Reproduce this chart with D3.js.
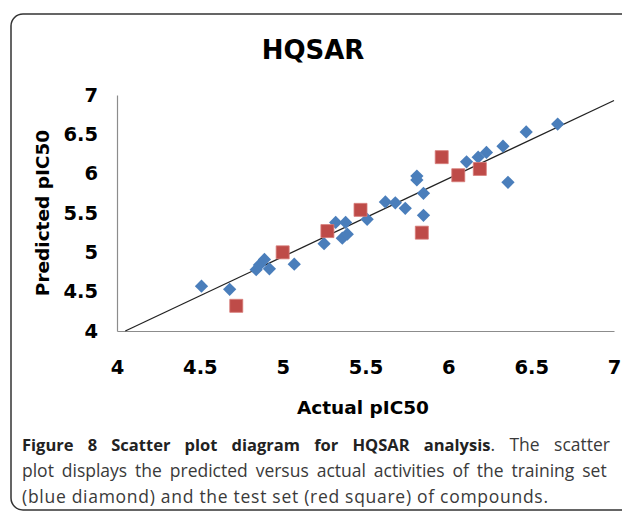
<!DOCTYPE html>
<html>
<head>
<meta charset="utf-8">
<script src="https://cdn.jsdelivr.net/npm/d3@7"></script>
<style>
body { margin: 0; background: #fff; overflow: hidden; }
</style>
</head>
<body>
<script>
// training set (blue diamonds)
const trainActual = [4.51, 4.68, 4.84, 4.86, 4.89, 4.92, 5.07, 5.25, 5.32, 5.38, 5.36, 5.39, 5.51, 5.62, 5.68, 5.74, 5.81, 5.81, 5.85, 5.85, 6.11, 6.18, 6.23, 6.33, 6.36, 6.47, 6.66]
const trainPred = [4.57, 4.53, 4.78, 4.84, 4.91, 4.79, 4.85, 5.11, 5.38, 5.38, 5.18, 5.23, 5.42, 5.64, 5.63, 5.56, 5.97, 5.92, 5.75, 5.47, 6.15, 6.21, 6.27, 6.35, 5.89, 6.53, 6.63]
// test set (red squares)
const testActual = [4.72, 5.00, 5.27, 5.47, 5.84, 5.96, 6.06, 6.19]
const testPred = [4.32, 5.00, 5.27, 5.54, 5.25, 6.21, 5.98, 6.06]
// fitted line end points
const fitX = [4.05, 7.0]
const fitY = [4.0, 6.93]
const ticks = [4, 4.5, 5, 5.5, 6, 6.5, 7]
const captionBold = "Figure 8 Scatter plot diagram for HQSAR analysis"
const captionLines = [". The scatter", "plot displays the predicted versus actual activities of the training set", "(blue diamond) and the test set (red square) of compounds."]

const W = 622, H = 514
const font = "'DejaVu Sans', sans-serif"

const svg = d3.select("body").append("svg").attr("width", W).attr("height", H)

svg.append("rect").attr("x", 11).attr("y", 14).attr("width", 660).attr("height", 496).attr("rx", 12)
  .attr("fill", "#fff").attr("stroke", "#333").attr("stroke-width", 1.5)

const x = d3.scaleLinear().domain([4, 7]).range([117, 614])
const y = d3.scaleLinear().domain([4, 7]).range([331, 95])

svg.append("text").attr("x", 313).attr("y", 50).attr("dy", "0.36em").attr("text-anchor", "middle")
  .style("font-family", font).style("font-weight", "bold").style("font-size", "26px").text("HQSAR")

const xAxis = svg.append("g").attr("transform", "translate(0," + y(4) + ")")
  .call(d3.axisBottom(x).tickValues(ticks).tickSize(0).tickPadding(29).tickFormat(d3.format("")))
const yAxis = svg.append("g").attr("transform", "translate(" + x(4) + ",0)")
  .call(d3.axisLeft(y).tickValues(ticks).tickSize(0).tickPadding(19).tickFormat(d3.format("")))
for (const a of [xAxis, yAxis]) {
  a.select(".domain").attr("stroke", "#8c8c8c").attr("stroke-width", 1.2)
  a.selectAll("text").style("font-family", font).style("font-weight", "bold").style("font-size", "19.5px").attr("fill", "#000")
}

svg.append("text").attr("x", 363).attr("y", 407).attr("dy", "0.36em").attr("text-anchor", "middle")
  .style("font-family", font).style("font-weight", "bold").style("font-size", "18.5px").text("Actual pIC50")
svg.append("text").attr("transform", "translate(42,213) rotate(-90)").attr("dy", "0.36em").attr("text-anchor", "middle")
  .style("font-family", font).style("font-weight", "bold").style("font-size", "18.5px").text("Predicted pIC50")

svg.append("line").attr("x1", x(fitX[0])).attr("y1", y(fitY[0])).attr("x2", x(fitX[1])).attr("y2", y(fitY[1]))
  .attr("stroke", "#222").attr("stroke-width", 1.3)

svg.append("g").selectAll("path").data(trainActual.map((d, i) => [d, trainPred[i]])).enter().append("path")
  .attr("d", d3.symbol(d3.symbolSquare, 88))
  .attr("transform", d => "translate(" + x(d[0]) + "," + y(d[1]) + ") rotate(45)")
  .attr("fill", "#4a7ebb")

svg.append("g").selectAll("path").data(testActual.map((d, i) => [d, testPred[i]])).enter().append("path")
  .attr("d", d3.symbol(d3.symbolSquare, 169))
  .attr("transform", d => "translate(" + x(d[0]) + "," + y(d[1]) + ")")
  .attr("fill", "#be4b48").attr("stroke", "#d77a77").attr("stroke-width", 0.8)

// caption: first two lines justified to the full width by widening the word gaps
const cap = svg.append("g").style("font-family", "'Open Sans', sans-serif").style("font-size", "17.5px").attr("fill", "#3a3a3a")
const justify = (t, width, gaps) => {
  const len = t.node().getComputedTextLength()
  t.style("word-spacing", ((width - len) / gaps) + "px")
}
const l1 = cap.append("text").attr("x", 22).attr("y", 451)
l1.append("tspan").style("font-weight", "bold").style("font-size", "16.5px").attr("fill", "#222").text(captionBold)
l1.append("tspan").text(captionLines[0])
justify(l1, 588, 9)
const l2 = cap.append("text").attr("x", 22).attr("y", 477).text(captionLines[1])
justify(l2, 588, 11)
cap.append("text").attr("x", 22).attr("y", 503).attr("textLength", 526).attr("lengthAdjust", "spacing").text(captionLines[2])
</script>
</body>
</html>
